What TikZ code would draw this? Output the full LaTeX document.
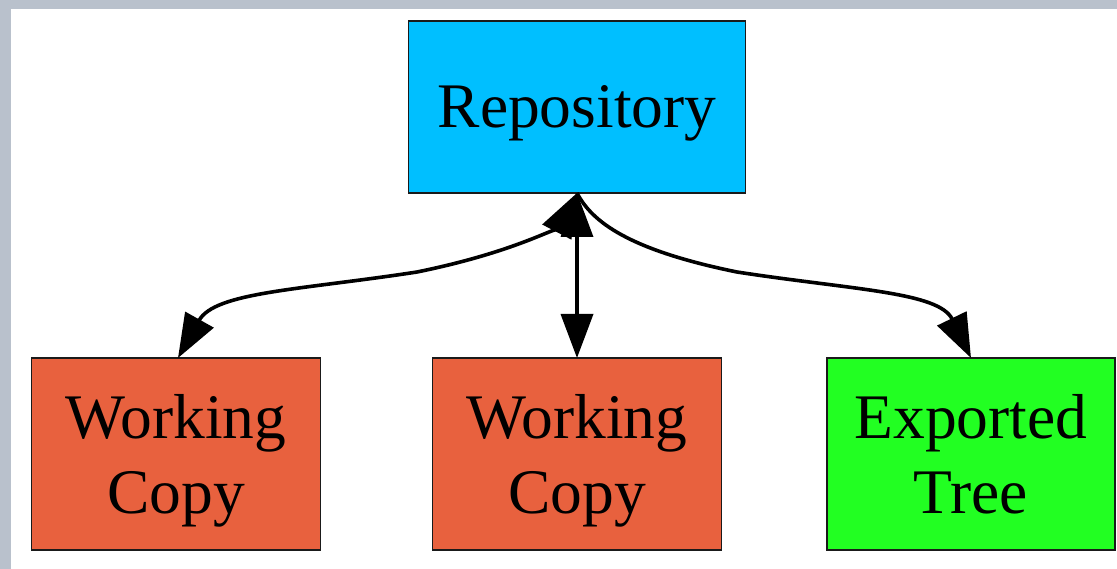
\documentclass[tikz,border=0pt]{standalone}
\usepackage{fontspec}
\setmainfont{Liberation Serif}
\usetikzlibrary{arrows.meta}
\definecolor{bgstripe}{HTML}{B9C1CC}
\definecolor{repoblue}{HTML}{00BFFF}
\definecolor{wcred}{HTML}{E8613E}
\definecolor{exgreen}{HTML}{22FF22}
\definecolor{edgeline}{HTML}{1A1A1A}
\tikzset{
  box/.style={draw=edgeline, line width=1.6pt, inner sep=0pt, outer sep=0pt},
  txt/.style={inner sep=0pt, outer sep=0pt, font=\fontsize{63.5}{75}\selectfont, text=black},
  tip/.tip={Triangle[length=44pt,width=32pt]},
  link/.style={line width=3.6pt, draw=black, tip-tip},
  onelink/.style={line width=3.6pt, draw=black, -tip}
}
\begin{document}
\begin{tikzpicture}[x=1pt,y=-1pt]
  \useasboundingbox (0,0) rectangle (1117,569);
  \fill[bgstripe] (0,0) rectangle (1117,569);
  \fill[white] (11,9) rectangle (1117,569);

  % boxes
  \node[box, fill=repoblue, minimum width=337pt, minimum height=172pt] (repo) at (577,107) {};
  \node[box, fill=wcred, minimum width=289pt, minimum height=192pt] (wc1) at (176,454) {};
  \node[box, fill=wcred, minimum width=289pt, minimum height=192pt] (wc2) at (577,454) {};
  \node[box, fill=exgreen, minimum width=288pt, minimum height=192pt] (ex) at (971,454) {};

  % texts
  \node[txt, anchor=base] (repot) at (577,128) {Repository};
  \node[txt, anchor=base] (wc1a) at (176,438) {Working};
  \node[txt, anchor=base] (wc1b) at (176,513) {Copy};
  \node[txt, anchor=base] (wc2a) at (577,438) {Working};
  \node[txt, anchor=base] (wc2b) at (577,513) {Copy};
  \node[txt, anchor=base] (exa) at (971,438) {Exported};
  \node[txt, anchor=base] (exb) at (971,513) {Tree};

  % connectors
  \coordinate (rb) at (repo.south);
  \coordinate (lm) at (417,272);
  \coordinate (rm) at (737,272);
  \coordinate (wc1top) at (178,358);
  \draw[link] (rb) .. controls (562,222) and (525,250) .. (lm)
                   .. controls (300,290) and (215,292) .. (wc1top);
  \draw[link] (rb) -- (wc2.north);
  \draw[onelink] (rb) .. controls (592,222) and (629,250) .. (rm)
                   .. controls (854,290) and (939,292) .. (ex.north);
\end{tikzpicture}
\end{document}
